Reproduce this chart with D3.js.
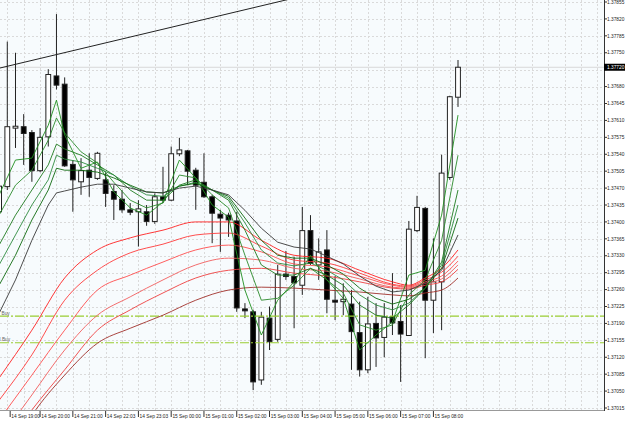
<!DOCTYPE html>
<html>
<head>
<meta charset="utf-8">
<script src="https://cdn.jsdelivr.net/npm/d3@7"></script>
<style>
  body { margin: 0; background: #fff; }
  text { font-family: "Liberation Sans", Arial, sans-serif; }
</style>
</head>
<body>
<div id="chart"></div>
<script>
// M15 candles, bar 0 is cut by the left edge
const open = [1.37421,1.37473,1.37594,1.37597,1.37585,1.37506,1.37576,1.37702,1.37685,1.37519,1.37483,1.37507,1.37490,1.37487,1.37463,1.37447,1.37425,1.37421,1.37421,1.37401,1.37452,1.37445,1.37541,1.37547,1.37507,1.37482,1.37452,1.37416,1.37414,1.37402,1.37220,1.37214,1.37073,1.37201,1.37157,1.37292,1.37287,1.37269,1.37382,1.37311,1.37342,1.37238,1.37235,1.37230,1.37171,1.37094,1.37190,1.37161,1.37204,1.37194,1.37165,1.37382,1.37428,1.37238,1.37276,1.37492,1.37658];
const high = [1.37491,1.37773,1.37750,1.37623,1.37590,1.37594,1.37716,1.37830,1.37699,1.37528,1.37532,1.37542,1.37545,1.37501,1.37476,1.37466,1.37439,1.37445,1.37435,1.37459,1.37514,1.37556,1.37574,1.37549,1.37512,1.37542,1.37456,1.37425,1.37419,1.37421,1.37232,1.37218,1.37214,1.37225,1.37311,1.37340,1.37328,1.37431,1.37414,1.37366,1.37383,1.37288,1.37273,1.37259,1.37235,1.37245,1.37232,1.37232,1.37294,1.37228,1.37402,1.37454,1.37431,1.37366,1.37539,1.37661,1.37735];
const low = [1.37400,1.37466,1.37553,1.37518,1.37483,1.37503,1.37556,1.37674,1.37514,1.37421,1.37456,1.37452,1.37487,1.37431,1.37404,1.37419,1.37414,1.37349,1.37392,1.37396,1.37439,1.37443,1.37536,1.37476,1.37425,1.37450,1.37356,1.37338,1.37369,1.37214,1.37201,1.37052,1.37063,1.37135,1.37152,1.37280,1.37180,1.37249,1.37311,1.37280,1.37211,1.37197,1.37207,1.37094,1.37080,1.37087,1.37100,1.37120,1.37166,1.37069,1.37164,1.37379,1.37118,1.37170,1.37176,1.37487,1.37638];
const close = [1.37474,1.37597,1.37598,1.37583,1.37506,1.37575,1.37705,1.37683,1.37516,1.37487,1.37506,1.37492,1.37542,1.37459,1.37447,1.37425,1.37420,1.37427,1.37401,1.37452,1.37445,1.37541,1.37549,1.37505,1.37476,1.37452,1.37418,1.37408,1.37404,1.37222,1.37216,1.37069,1.37203,1.37152,1.37292,1.37287,1.37274,1.37382,1.37314,1.37338,1.37240,1.37234,1.37240,1.37173,1.37094,1.37189,1.37160,1.37203,1.37191,1.37168,1.37385,1.37430,1.37238,1.37276,1.37501,1.37659,1.37720];

// short group (green), read every 2 bars plus the peak at bar 7
const shortBars = [0,2,4,6,7,8,10,12,14,16,18,20,22,24,26,28,30,32,34,36,38,40,42,44,46,48,50,52,54,56];
const ema3  = [1.37456,1.37528,1.37532,1.37600,1.37652,1.37580,1.37511,1.37524,1.37462,1.37429,1.37414,1.37441,1.37528,1.37491,1.37435,1.37410,1.37259,1.37166,1.37238,1.37276,1.37331,1.37280,1.37242,1.37135,1.37166,1.37193,1.37290,1.37300,1.37414,1.37621];
const ema5  = [1.37414,1.37476,1.37507,1.37569,1.37615,1.37584,1.37545,1.37522,1.37482,1.37445,1.37429,1.37439,1.37497,1.37491,1.37456,1.37429,1.37331,1.37238,1.37242,1.37269,1.37304,1.37280,1.37253,1.37187,1.37176,1.37187,1.37249,1.37280,1.37362,1.37538];
const ema8  = [1.37352,1.37414,1.37466,1.37518,1.37561,1.37551,1.37538,1.37518,1.37497,1.37466,1.37445,1.37445,1.37476,1.37487,1.37466,1.37445,1.37383,1.37311,1.37290,1.37290,1.37304,1.37290,1.37269,1.37228,1.37207,1.37201,1.37228,1.37263,1.37317,1.37466];
const ema10 = [1.37311,1.37373,1.37435,1.37487,1.37538,1.37530,1.37524,1.37511,1.37497,1.37474,1.37456,1.37453,1.37474,1.37482,1.37466,1.37449,1.37398,1.37342,1.37315,1.37309,1.37315,1.37300,1.37280,1.37249,1.37228,1.37218,1.37232,1.37263,1.37311,1.37435];
const ema12 = [1.37269,1.37331,1.37404,1.37466,1.37511,1.37507,1.37507,1.37503,1.37491,1.37476,1.37462,1.37460,1.37474,1.37480,1.37466,1.37453,1.37408,1.37362,1.37331,1.37325,1.37325,1.37311,1.37292,1.37263,1.37242,1.37230,1.37240,1.37263,1.37304,1.37408];
const ema15 = [1.37211,1.37280,1.37362,1.37435,1.37460,1.37464,1.37472,1.37478,1.37478,1.37470,1.37462,1.37460,1.37470,1.37474,1.37466,1.37456,1.37424,1.37387,1.37358,1.37348,1.37344,1.37329,1.37313,1.37288,1.37267,1.37255,1.37259,1.37273,1.37300,1.37373];

// long group (red), read every 4 bars then every 2 at the end
const longBars = [0,4,8,12,16,20,24,28,32,36,40,44,48,50,52,54,56];
const ema30 = [1.37077,1.37176,1.37284,1.37342,1.37367,1.37383,1.37400,1.37400,1.37362,1.37331,1.37325,1.37300,1.37276,1.37269,1.37284,1.37304,1.37342];
const ema35 = [1.37031,1.37125,1.37238,1.37300,1.37336,1.37354,1.37373,1.37377,1.37350,1.37321,1.37315,1.37294,1.37271,1.37267,1.37280,1.37296,1.37329];
const ema40 = [1.36990,1.37083,1.37176,1.37259,1.37290,1.37317,1.37342,1.37352,1.37338,1.37313,1.37307,1.37288,1.37269,1.37265,1.37276,1.37288,1.37319];
const ema45 = [1.36949,1.37042,1.37135,1.37207,1.37245,1.37280,1.37311,1.37325,1.37321,1.37304,1.37298,1.37282,1.37265,1.37263,1.37273,1.37282,1.37311];
const ema50 = [1.36918,1.37011,1.37094,1.37176,1.37218,1.37253,1.37284,1.37300,1.37304,1.37294,1.37288,1.37276,1.37263,1.37261,1.37269,1.37276,1.37302];
const ema60 = [1.36886,1.37000,1.37083,1.37149,1.37180,1.37207,1.37238,1.37259,1.37265,1.37263,1.37259,1.37255,1.37249,1.37247,1.37253,1.37259,1.37284];

const priceTicks = [1.37015,1.37050,1.37085,1.37120,1.37155,1.37190,1.37225,1.37260,1.37295,1.37330,1.37365,1.37400,1.37435,1.37470,1.37505,1.37540,1.37575,1.37610,1.37645,1.37680,1.37715,1.37750,1.37785,1.37820,1.37855];
const timeLabels = ["14 Sep 19:00","14 Sep 20:00","14 Sep 21:00","14 Sep 22:03","14 Sep 23:03","15 Sep 00:00","15 Sep 01:00","15 Sep 02:00","15 Sep 03:00","15 Sep 04:00","15 Sep 05:00","15 Sep 06:00","15 Sep 07:00","15 Sep 08:00"];
const timeBars = [1.35,5,9,13,17,21,25,29,33,37,41,45,49,53];

const orderLevels = [1.37205, 1.37150];
const orderTexts = ["Buy", "l Buy"];
const trendBars = [0, 30];
const trendPrices = [1.37718, 1.37839];

const width = 625, height = 421, plotW = 604, plotH = 410;

let svg = d3.select("#chart").append("svg")
    .attr("width", width)
    .attr("height", height);

svg.append("rect").attr("width", width).attr("height", height).attr("fill", "#fff");
svg.append("rect").attr("width", plotW).attr("height", plotH).attr("fill", "#f7fbfd");

svg.append("clipPath").attr("id", "plot")
    .append("rect").attr("width", plotW).attr("height", plotH);

let x = d3.scaleLinear().domain([0, 56]).range([-0.9, 458]);
let y = d3.scaleLinear().domain([1.37015, 1.37855]).range([408, 2]);

let plot = svg.append("g").attr("clip-path", "url(#plot)");

// grid
plot.append("g").selectAll("line")
    .data(priceTicks)
    .enter().append("line")
    .attr("x1", 0).attr("x2", plotW)
    .attr("y1", d => Math.round(y(d)) + 0.5).attr("y2", d => Math.round(y(d)) + 0.5)
    .attr("stroke", "#dadada").attr("stroke-dasharray", "2,2");

plot.append("g").selectAll("line")
    .data(d3.range(1, 75, 2))
    .enter().append("line")
    .attr("x1", d => Math.round(x(d)) + 0.5).attr("x2", d => Math.round(x(d)) + 0.5)
    .attr("y1", 0).attr("y2", plotH)
    .attr("stroke", "#dadada").attr("stroke-dasharray", "2,2");

// bid line
let last = close[close.length - 1];
plot.append("line")
    .attr("x1", 0).attr("x2", plotW)
    .attr("y1", y(last)).attr("y2", y(last))
    .attr("stroke", "#d8d8d8");

// candles
let bars = d3.range(open.length);
let candles = plot.append("g").selectAll("g")
    .data(bars)
    .enter().append("g");

candles.append("line")
    .attr("x1", i => x(i)).attr("x2", i => x(i))
    .attr("y1", i => y(high[i])).attr("y2", i => y(low[i]))
    .attr("stroke", "#222");

candles.append("rect")
    .attr("x", i => x(i) - 2.4)
    .attr("width", 4.8)
    .attr("y", i => y(Math.max(open[i], close[i])))
    .attr("height", i => Math.max(1, Math.abs(y(open[i]) - y(close[i]))))
    .attr("fill", i => close[i] >= open[i] ? "#fff" : "#000")
    .attr("stroke", "#222");

// order lines
plot.append("g").selectAll("line")
    .data(orderLevels)
    .enter().append("line")
    .attr("x1", 0).attr("x2", plotW)
    .attr("y1", d => y(d)).attr("y2", d => y(d))
    .attr("stroke", "#9acd32")
    .attr("stroke-width", (d, i) => i === 0 ? 1.4 : 1)
    .attr("stroke-dasharray", "9,2,2,2");

plot.append("g").selectAll("text")
    .data(orderTexts)
    .enter().append("text")
    .attr("x", (d, i) => i === 0 ? 1.5 : -0.5)
    .attr("y", (d, i) => y(orderLevels[i]) - 1.5)
    .attr("font-size", 4.8)
    .attr("fill", "#666")
    .text(d => d);

// moving averages
let line = d3.line().x(d => x(d[0])).y(d => y(d[1]));
let longLine = d3.line().x(d => x(d[0])).y(d => y(d[1])).curve(d3.curveMonotoneX);

let longSeries = [
    { v: ema30, c: "#ff2020" },
    { v: ema35, c: "#ff3a3a" },
    { v: ema40, c: "#ff4d4d" },
    { v: ema45, c: "#f25c5c" },
    { v: ema50, c: "#ee4040" },
    { v: ema60, c: "#a0302a" }
];
let shortSeries = [
    { v: ema3,  c: "#1f8f1f" },
    { v: ema5,  c: "#2a8a2a" },
    { v: ema8,  c: "#1e7a1e" },
    { v: ema10, c: "#2e8b3e" },
    { v: ema12, c: "#0f6a0f" },
    { v: ema15, c: "#3a3a3a" }
];

plot.append("g").selectAll("path")
    .data(longSeries)
    .enter().append("path")
    .attr("fill", "none")
    .attr("stroke", d => d.c)
    .attr("stroke-width", 0.9)
    .attr("d", d => longLine(longBars.map((b, k) => [b, d.v[k]])));

plot.append("g").selectAll("path")
    .data(shortSeries)
    .enter().append("path")
    .attr("fill", "none")
    .attr("stroke", d => d.c)
    .attr("stroke-width", 0.9)
    .attr("d", d => line(shortBars.map((b, k) => [b, d.v[k]])));

// trend line
let trend = d3.scaleLinear().domain(trendBars).range(trendPrices);
plot.append("line")
    .attr("x1", x(-1)).attr("y1", y(trend(-1)))
    .attr("x2", x(70)).attr("y2", y(trend(70)))
    .attr("stroke", "#222").attr("stroke-width", 1);

// axes
svg.append("line")
    .attr("x1", plotW + 0.5).attr("x2", plotW + 0.5)
    .attr("y1", 0).attr("y2", plotH + 1)
    .attr("stroke", "#333");
svg.append("line")
    .attr("x1", 0).attr("x2", plotW)
    .attr("y1", plotH + 0.5).attr("y2", plotH + 0.5)
    .attr("stroke", "#999");

// price labels hidden under the current price box are not drawn
let shownTicks = priceTicks.filter(d => Math.abs(y(d) - y(last)) > 5);
let yAxis = svg.append("g");
yAxis.selectAll("line")
    .data(priceTicks)
    .enter().append("line")
    .attr("x1", plotW).attr("x2", plotW + 3)
    .attr("y1", d => y(d)).attr("y2", d => y(d))
    .attr("stroke", "#333");
yAxis.selectAll("text")
    .data(shownTicks)
    .enter().append("text")
    .attr("x", plotW + 3)
    .attr("y", d => y(d) + 1.7)
    .attr("font-size", 4.8)
    .attr("fill", "#222")
    .text(d => d.toFixed(5));

let xAxis = svg.append("g");
xAxis.selectAll("line")
    .data(timeBars)
    .enter().append("line")
    .attr("x1", d => x(d)).attr("x2", d => x(d))
    .attr("y1", plotH + 1).attr("y2", plotH + 7)
    .attr("stroke", "#333");
xAxis.selectAll("text")
    .data(timeLabels)
    .enter().append("text")
    .attr("x", (d, i) => x(timeBars[i]) + 1.2)
    .attr("y", plotH + 7.5)
    .attr("font-size", 4.8)
    .attr("fill", "#222")
    .text(d => d);

// current price label
svg.append("rect")
    .attr("x", plotW).attr("y", y(last) - 3.5)
    .attr("width", width - plotW).attr("height", 7)
    .attr("fill", "#000");
svg.append("text")
    .attr("x", plotW + 3).attr("y", y(last) + 1.7)
    .attr("font-size", 4.8)
    .attr("fill", "#fff")
    .text(last.toFixed(5));
</script>
</body>
</html>
